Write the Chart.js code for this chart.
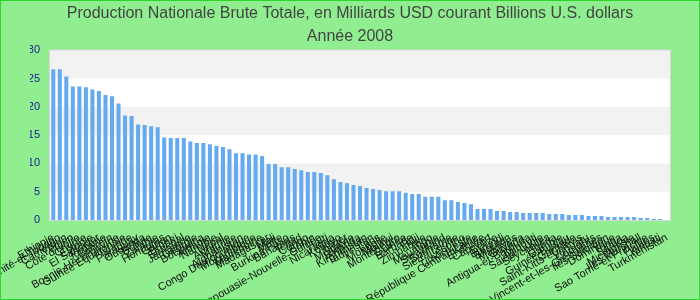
<!DOCTYPE html>
<html>
<head>
<meta charset="utf-8">
<script src="https://cdn.jsdelivr.net/npm/chart.js@4.4.1/dist/chart.umd.min.js"></script>
<style>
  html, body { margin: 0; padding: 0; background: #90ee90; }
  #wrap { width: 700px; height: 300px; box-sizing: border-box; border: 1px solid #2bd62b; }
  canvas { display: block; }
</style>
</head>
<body>
<div id="wrap"><canvas id="chart" width="698" height="298"></canvas></div>
<script>
var countries = [
  "Ethiopie", "Trinité-et-Tobago", "Cameroun", "Yémen", "Côte d'Ivoire",
  "Chypre", "Estonie", "El Salvador", "Jordanie", "Bahreïn",
  "Bosnie-Herzégovine", "Guinée Equatoriale", "Islande", "Paraguay", "Ouganda",
  "Bolivie", "Zambie", "Honduras", "Gabon", "Brunei",
  "Sénégal", "Jamaïque", "Géorgie", "Botswana", "Albanie",
  "Namibie", "Népal", "Arménie", "Maurice", "Afghanistan",
  "Congo Démocratique", "Mozambique", "Macédoine", "Madagascar", "Mali",
  "Malte", "Burkina Faso", "Bahamas", "Tchad", "Congo",
  "Bénin", "Papouasie-Nouvelle-Guinée", "Haïti", "Nicaragua", "Kosovo",
  "Niger", "Moldavie", "Rwanda", "Kirghizistan", "Tadjikistan",
  "Laos", "Mongolie", "Malawi", "Monténégro", "Guinée",
  "Barbade", "Fidji", "Zimbabwe", "Togo", "Mauritanie",
  "Swaziland", "Suriname", "Sierra Leone", "Lesotho", "Timor-Leste",
  "République Centrafricaine", "Erythrée", "Cap-Vert", "Belize", "Burundi",
  "Bhoutan", "Maldives", "Guyana", "Antigua-et-Barbuda", "Djibouti",
  "Sainte-Lucie", "Seychelles", "Libéria", "Gambie", "Guinée-Bissau",
  "Grenade", "Saint-Kitts-et-Nevis", "Vanuatu", "Comores", "Saint-Vincent-et-les-Grenadines",
  "Iles Salomon", "Dominique", "Tonga", "Samoa", "Micronésie",
  "Iles Marshall", "Sao Tomé-et-Principe", "Palaos", "Kiribati", "Turkménistan"
];

var gni2008 = [
  26.65, 26.65, 25.4, 23.6, 23.6, 23.5, 23.1, 22.8, 22.1, 21.9,
  20.6, 18.5, 18.4, 16.9, 16.8, 16.6, 16.4, 14.6, 14.5, 14.5,
  14.5, 13.9, 13.6, 13.6, 13.4, 13.1, 12.9, 12.5, 11.8, 11.8,
  11.6, 11.6, 11.3, 9.9, 9.9, 9.35, 9.35, 9.0, 8.8, 8.5,
  8.5, 8.3, 7.9, 7.2, 6.7, 6.5, 6.2, 6.0, 5.65, 5.5,
  5.3, 5.1, 5.1, 5.1, 4.8, 4.6, 4.6, 4.1, 4.1, 4.1,
  3.5, 3.5, 3.2, 3.0, 2.8, 1.94, 1.94, 1.94, 1.6, 1.6,
  1.4, 1.4, 1.24, 1.24, 1.24, 1.24, 1.06, 1.06, 1.06, 0.88,
  0.88, 0.88, 0.7, 0.7, 0.7, 0.53, 0.53, 0.53, 0.53, 0.53,
  0.35, 0.35, 0.18, 0.18, null
];

var yTicks = [0, 5, 10, 15, 20, 25, 30];
var titleLines = ["Production Nationale Brute Totale, en Milliards USD courant Billions U.S. dollars", "Année 2008"];

// white plot area with grey bands every other tick interval, plus light frame
var bands = {
  id: 'bands',
  beforeDatasetsDraw: function (chart) {
    var ctx = chart.ctx, a = chart.chartArea, y = chart.scales.y;
    ctx.save();
    ctx.fillStyle = '#ffffff';
    ctx.fillRect(a.left, a.top, a.right - a.left, a.bottom - a.top);
    ctx.fillStyle = '#f2f2f2';
    for (var i = yTicks.length - 1; i > 0; i -= 2) {
      var t = y.getPixelForValue(yTicks[i]);
      var b = y.getPixelForValue(yTicks[i - 1]);
      ctx.fillRect(a.left, t, a.right - a.left, b - t);
    }
    ctx.restore();
  },
  afterDatasetsDraw: function (chart) {
    var ctx = chart.ctx, a = chart.chartArea;
    ctx.save();
    ctx.strokeStyle = '#d6d6d6';
    ctx.lineWidth = 1;
    ctx.strokeRect(a.left - 0.5, a.top - 0.5, a.right - a.left + 1, a.bottom - a.top + 1);
    ctx.restore();
  }
};

var ctx = document.getElementById('chart').getContext('2d');
var chart = new Chart(ctx, {
  type: 'bar',
  data: {
    labels: countries,
    datasets: [{
      data: gni2008,
      backgroundColor: '#65a9f0',
      borderWidth: 0,
      categoryPercentage: 1.0,
      barPercentage: 0.62
    }]
  },
  options: {
    responsive: false,
    animation: false,
    // equal side padding keeps the title centred on the page
    layout: { padding: { left: 29, right: 29, top: 0, bottom: 0 } },
    plugins: {
      legend: { display: false },
      tooltip: { enabled: false },
      title: {
        display: true,
        text: titleLines,
        color: '#444444',
        font: { family: 'Liberation Sans, Arial', size: 16, weight: 'normal', lineHeight: 1.45 },
        padding: { top: 1, bottom: 2 }
      }
    },
    scales: {
      x: {
        grid: { display: false, drawTicks: false },
        border: { display: false },
        ticks: {
          autoSkip: false,
          minRotation: 30,
          maxRotation: 30,
          padding: 11,
          color: '#111111',
          font: { family: 'Liberation Sans, Arial', size: 11 }
        },
        afterFit: function (s) { s.height = 79; s.paddingLeft = 0; s.paddingRight = 0; }
      },
      y: {
        min: 0,
        max: 30,
        grid: { display: false, drawTicks: false },
        border: { display: false },
        ticks: {
          stepSize: 5,
          padding: 10,
          color: '#1a1a8c',
          font: { family: 'Liberation Sans, Arial', size: 11 }
        },
        afterFit: function (s) { s.width = 20; }
      }
    }
  },
  plugins: [bands]
});
</script>
</body>
</html>
